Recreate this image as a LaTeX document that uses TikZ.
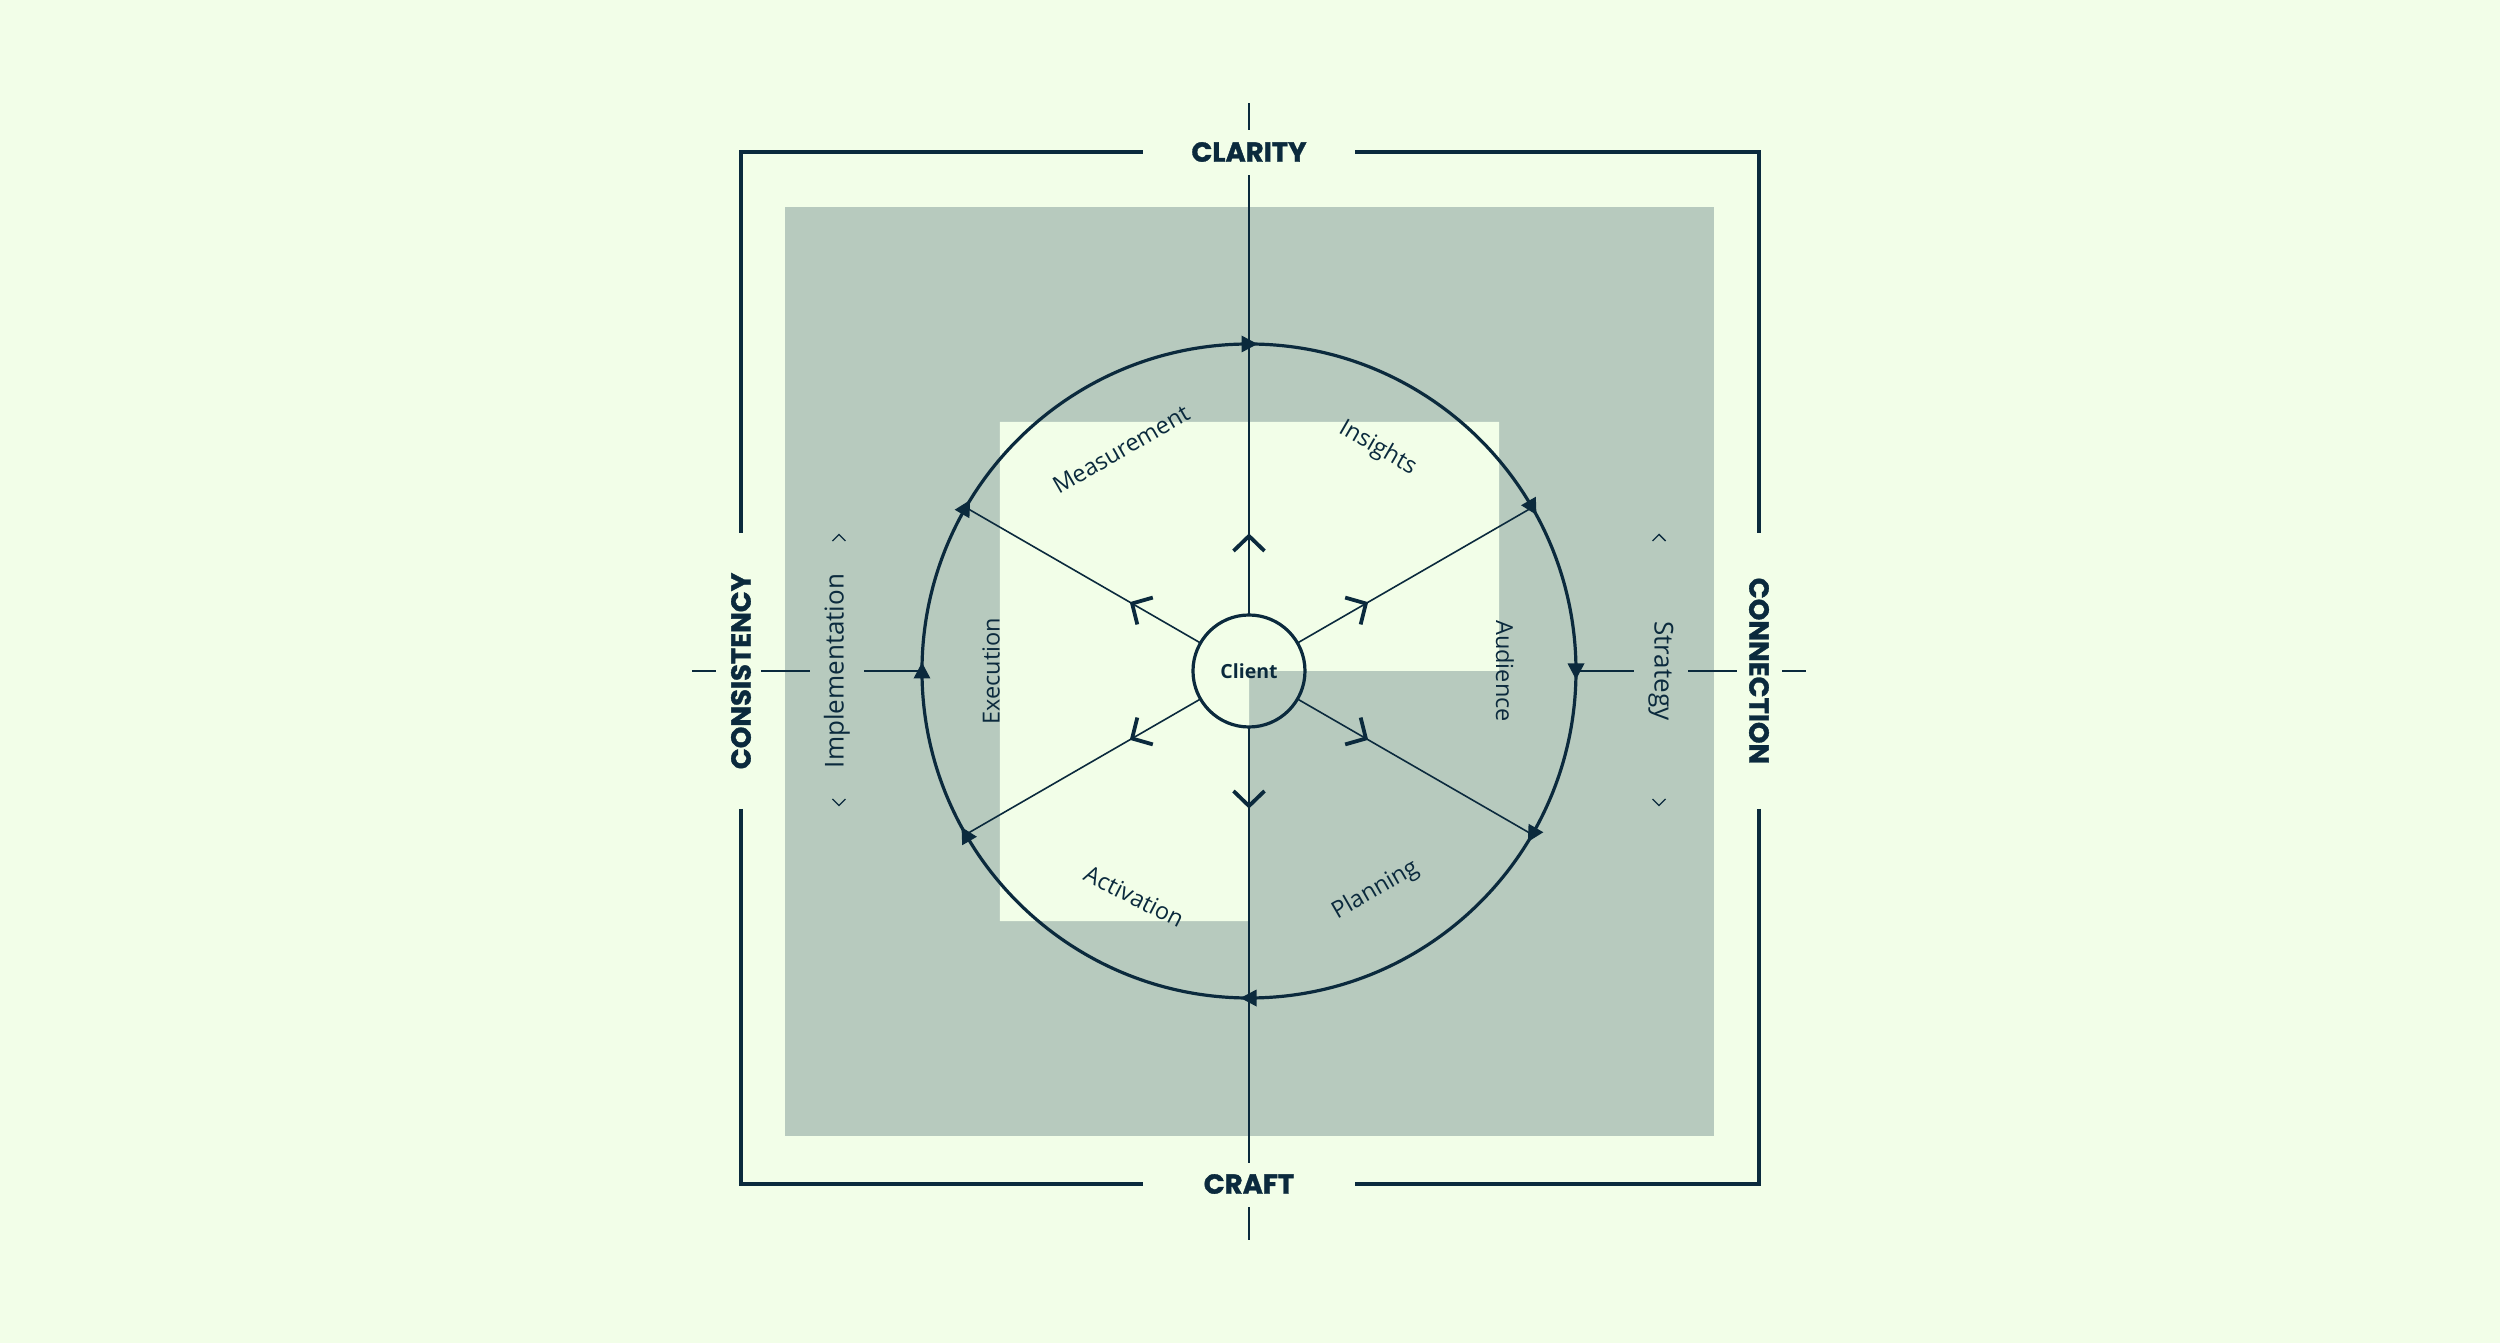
\documentclass[tikz,border=0pt]{standalone}
\usepackage{fontspec}
\setmainfont{Open Sans}
\newfontfamily\headfont{Poppins}[BoldFeatures={FakeBold=1.2}]
\definecolor{bg}{HTML}{F2FEE8}
\definecolor{gr}{HTML}{B7CABE}
\definecolor{navy}{HTML}{0B2A3D}
\tikzset{
  frame/.style={draw=navy, line width=3.5pt},
  spoke/.style={draw=navy, line width=1.6pt},
  chev/.style={draw=navy, line width=3.8pt, line cap=butt, line join=miter},
  smallchev/.style={draw=navy, line width=1.4pt},
  head/.style={text=navy, inner sep=0pt, font=\headfont\bfseries\fontsize{27.5}{28}\selectfont},
  lab/.style={text=navy, inner sep=0pt, font=\fontsize{23.5}{24}\selectfont},
  labout/.style={text=navy, inner sep=0pt, font=\fontsize{26}{27}\selectfont},
  tip/.style={fill=navy}
}
\begin{document}
\begin{tikzpicture}[x=1pt,y=1pt]
\useasboundingbox (-1249,-672) rectangle (1251,671);
\fill[bg] (-1249,-672) rectangle (1251,671);
\fill[gr] (-464,-465) rectangle (465,464);
\fill[bg] (-249,249) -- (250,249) -- (250,0) -- (0,0) -- (0,-250) -- (-249,-250) -- cycle;

% frame
\draw[frame] (-106,519) -- (-508,519) -- (-508,138);
\draw[frame] (106,519) -- (510,519) -- (510,138);
\draw[frame] (-508,-138) -- (-508,-513) -- (-106,-513);
\draw[frame] (510,-138) -- (510,-513) -- (106,-513);

% frame labels
\node[head] (clarity) at (0,519) {CLARITY};
\node[head] (craft) at (0,-513) {CRAFT};
\node[head, rotate=90] (consistency) at (-508,0) {CONSISTENCY};
\node[head, rotate=-90] (connection) at (510,0) {CONNECTION};

% main ring and client
\node[draw=navy, circle, line width=3.2pt, minimum size=654pt, inner sep=0pt, outer sep=0pt] (ring) at (0,0) {};
\node[draw=navy, circle, line width=3.2pt, minimum size=112pt, inner sep=0pt, outer sep=0pt, text=navy,
      font=\bfseries\fontsize{19.5}{20}\selectfont] (client) at (0,0) {Client};

% axis coordinates
\coordinate (vtop) at (0,496);
\coordinate (vbot) at (0,-492);
\coordinate (ttop1) at (0,541); \coordinate (ttop2) at (0,568);
\coordinate (tbot1) at (0,-536); \coordinate (tbot2) at (0,-569);
\coordinate (hl1) at (-385,0); \coordinate (hl2) at (-439,0); \coordinate (hl3) at (-488,0);
\coordinate (hl4) at (-533,0); \coordinate (hl5) at (-557,0);
\coordinate (hr1) at (385,0); \coordinate (hr2) at (439,0); \coordinate (hr3) at (488,0);
\coordinate (hr4) at (533,0); \coordinate (hr5) at (557,0);

% vertical axis
\draw[spoke] (client.90) -- (vtop);
\draw[spoke] (client.270) -- (vbot);
\draw[spoke] (ttop1) -- (ttop2);
\draw[spoke] (tbot1) -- (tbot2);
% horizontal axis
\draw[spoke] (ring.180) -- (hl1);
\draw[spoke] (hl2) -- (hl3);
\draw[spoke] (hl4) -- (hl5);
\draw[spoke] (ring.0) -- (hr1);
\draw[spoke] (hr2) -- (hr3);
\draw[spoke] (hr4) -- (hr5);
% diagonal spokes
\foreach \a in {30,150,210,330} {
  \draw[spoke] (client.\a) -- (ring.\a);
}
% spoke chevrons
\foreach \a in {90,30,150,210,270,330} {
  \draw[chev, rotate=\a] (120,15.5) -- (135,0) -- (120,-15.5);
}
% ring arrowheads (clockwise)
\foreach \a in {90,30,0,-30,-90,-150,180,150} {
  \fill[tip, shift={(\a:327)}, rotate=\a-90] (8.5,0) -- (-7.5,8.5) -- (-7.5,-8.5) -- cycle;
}

% ring labels
\node[lab, rotate=30]  (meas) at (120:256) {Measurement};
\node[lab, rotate=-30] (ins)  at (60:257) {Insights};
\node[lab, rotate=-90] (aud)  at (0:256) {Audience};
\node[lab, rotate=30]  (plan) at (-60:253) {Planning};
\node[lab, rotate=-27] (act)  at (-117:253) {Activation};
\node[lab, rotate=90]  (exe)  at (180:258) {Execution};

% outer side labels
\node[labout, rotate=90]  (impl) at (-412,0) {Implementation};
\node[labout, rotate=-90] (strat) at (412,0) {Strategy};

% small chevrons
\draw[smallchev] (-416.5,130) -- (-410,136.5) -- (-403.5,130);
\draw[smallchev] (-416.5,-128) -- (-410,-134.5) -- (-403.5,-128);
\draw[smallchev] (403.5,130) -- (410,136.5) -- (416.5,130);
\draw[smallchev] (403.5,-128) -- (410,-134.5) -- (416.5,-128);
\end{tikzpicture}
\end{document}
